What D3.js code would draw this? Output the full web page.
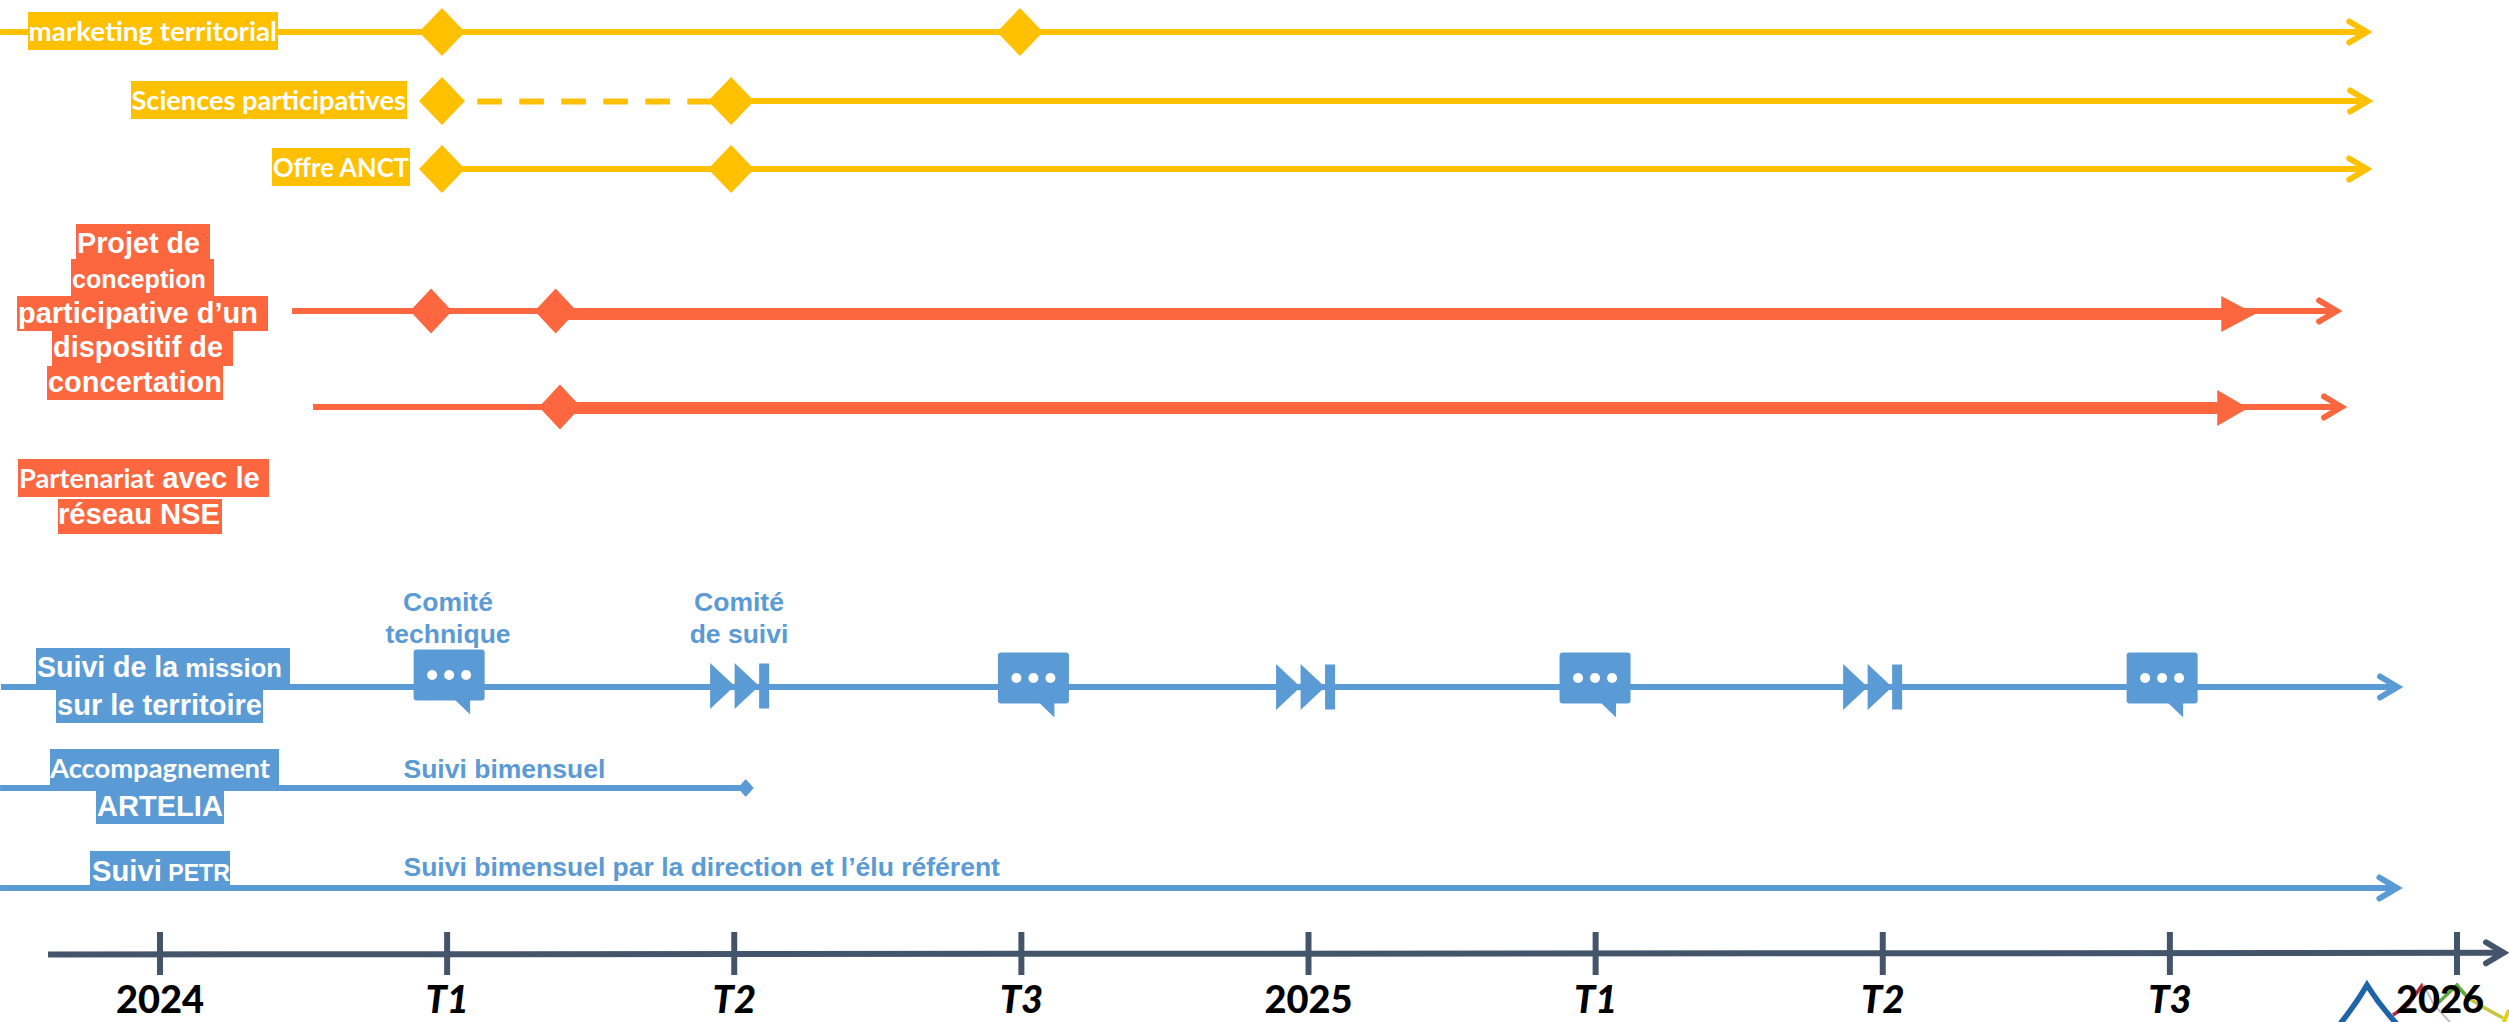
<!DOCTYPE html>
<html lang="fr">
<head>
<meta charset="utf-8">
<script src="https://cdnjs.cloudflare.com/ajax/libs/d3/7.8.5/d3.min.js"></script>
<style>
html,body{margin:0;padding:0;background:#fff;overflow:hidden}
svg{display:block}
</style>
</head>
<body>
<svg id="c" width="2509" height="1022" xmlns="http://www.w3.org/2000/svg"></svg>
<script>
// ---------- data (time expressed in quarters since start of 2024) ----------
const rows = ["marketing","sciences","anct","conception","nse","suivi","artelia","petr"];
const rowGroup = ["yellow","yellow","yellow","orange","orange","blue","blue","blue"];
const lineStart = [-0.557, 1.989, 0.982, 0.460, 0.533, -0.554, -0.557, -0.557];
const lineEnd = [7.705, 7.708, 7.705, 7.600, 7.617, 7.812, 2.040, 7.810];
const arrowEnd = [true, true, true, true, true, true, false, true];
const milestones = [[0.982, 2.995],[0.982, 1.989],[0.982, 1.989],[0.944, 1.378],[1.393],[],[],[]];
const dashedStart = 1.105, dashedEnd = 1.989;
const thickStart = [1.378, 1.393];
const thickEnd = [7.179, 7.165];
const thickTip = [7.297, 7.273];
const bubbles = [1.007, 3.042, 4.998, 6.973];
const fastForward = [1.916, 3.887, 5.862];
const tickValues = [0,1,2,3,4,5,6,7,8];
const tickLabels = ["2024","T1","T2","T3","2025","T1","T2","T3","2026"];
const axisStart = -0.390, axisEnd = 8.18;

const AR = '"Liberation Sans", Arial, sans-serif';
const CA = 'Lato, Carlito, sans-serif';
const labelLines = [
 {g:"yellow",rect:[28,278,12,50],tx:[28.5,277],b:41,s:[["marketing territorial",CA,27]]},
 {g:"yellow",rect:[131,407,81,119],tx:[131.5,406],b:110,s:[["Sciences participatives",CA,27]]},
 {g:"yellow",rect:[272,410,148,186],tx:[273,409],b:177,s:[["Offre ANCT",CA,27]]},
 {g:"orange",rect:[76,210,224,259],tx:[77,200],b:253,s:[["Projet de",AR,28.7]]},
 {g:"orange",rect:[71,214,259,296],tx:[72,206],b:288,s:[["conception",AR,25]]},
 {g:"orange",rect:[17,268,296,331],tx:[18,258],b:323,s:[["participative d’un",AR,29]]},
 {g:"orange",rect:[52,233,331,366],tx:[53,223],b:357,s:[["dispositif de",AR,29]]},
 {g:"orange",rect:[47,223,366,400],tx:[48,222],b:392,s:[["concertation",AR,29]]},
 {g:"orange",rect:[18,269,459,497],tx:[19,260],b:488,s:[["Partenariat",CA,27],[" avec le",AR,29]]},
 {g:"orange",rect:[58,222,499,534],tx:[58,220],b:524,s:[["réseau NSE",AR,29]]},
 {g:"blue",rect:[36,290,648,689],tx:[37,282],b:677,s:[["Suivi de la",AR,29],[" mission",AR,26]]},
 {g:"blue",rect:[56,263,689,723],tx:[57,262],b:715,s:[["sur le territoire",AR,29]]},
 {g:"blue",rect:[50,279,749,790],tx:[50,270],b:778,s:[["Accompagnement",CA,27]]},
 {g:"blue",rect:[96,224,791,824],tx:[97,223],b:816,s:[["ARTELIA",AR,29]]},
 {g:"blue",rect:[90,230,851,885],tx:[92,230],b:881,s:[["Suivi",AR,29],[" PETR",AR,23]]}
];
const notes = [
 {x:448,b:611,a:"middle",t:"Comité"},
 {x:448,b:643,a:"middle",t:"technique"},
 {x:739,b:611,a:"middle",t:"Comité"},
 {x:739,b:643,a:"middle",t:"de suivi"},
 {x:403.5,b:778,a:"start",t:"Suivi bimensuel"},
 {x:403.5,b:876,a:"start",t:"Suivi bimensuel par la direction et l’élu référent"}
];

// ---------- scales ----------
const colors = {yellow:"#FFC000",orange:"#FC673F",blue:"#5B9BD5"};
const navy = "#44546A";
const x = d3.scaleLinear().domain([0,8]).range([160,2457]);
const y = d3.scaleOrdinal().domain(rows).range([32,101,169,311,407,687,788,888]);
const color = d3.scaleOrdinal().domain(rows).range(rowGroup.map(g=>colors[g]));

const svg = d3.select("#c");
const lineLayer = svg.append("g");
const markLayer = svg.append("g");

// open arrowhead whose tip sits at (px,py)
function arrowHead(sel,px,py,c){
  sel.append("path")
    .attr("d",`M${px-23},${py-10.5}L${px-5.5},${py}L${px-23},${py+10.5}`)
    .attr("fill","none").attr("stroke",c).attr("stroke-width",6)
    .attr("stroke-linecap","round").attr("stroke-linejoin","miter");
}

// ---------- main lines ----------
rows.forEach((r,i)=>{
  const yy = y(r), c = color(r);
  lineLayer.append("line")
    .attr("x1",x(lineStart[i])).attr("x2",x(lineEnd[i])-5.5)
    .attr("y1",yy).attr("y2",yy)
    .attr("stroke",c).attr("stroke-width",6);
  if(arrowEnd[i]) arrowHead(lineLayer,x(lineEnd[i]),yy,c);
});

// dashed segment
lineLayer.append("line")
  .attr("x1",x(dashedStart)).attr("x2",x(dashedEnd))
  .attr("y1",y("sciences")+.5).attr("y2",y("sciences")+.5)
  .attr("stroke",colors.yellow).attr("stroke-width",6)
  .attr("stroke-dasharray","24.6 17.4");

// thick orange bars + triangles
["conception","nse"].forEach((r,i)=>{
  const yy = y(r)+ (i==0?3:1);
  markLayer.append("line")
    .attr("x1",x(thickStart[i])).attr("x2",x(thickEnd[i])+2)
    .attr("y1",yy).attr("y2",yy)
    .attr("stroke",colors.orange).attr("stroke-width",12);
  markLayer.append("path")
    .attr("d",`M${x(thickEnd[i])},${yy-18}L${x(thickTip[i])},${yy}L${x(thickEnd[i])},${yy+18}Z`)
    .attr("fill",colors.orange);
});

// ---------- diamonds ----------
rows.forEach((r,i)=>{
  const hw = rowGroup[i]==="yellow"?23:21, hh = rowGroup[i]==="yellow"?24:22.5;
  milestones[i].forEach(q=>{
    const cx=x(q), cy=y(r);
    markLayer.append("path")
      .attr("d",`M${cx-hw},${cy}L${cx},${cy-hh}L${cx+hw},${cy}L${cx},${cy+hh}Z`)
      .attr("fill",color(r));
  });
});
// end diamond of ARTELIA line
(function(){
  const cx=x(lineEnd[6]), cy=y("artelia");
  markLayer.append("path")
    .attr("d",`M${cx-8},${cy}L${cx},${cy-9}L${cx+8},${cy}L${cx},${cy+9}Z`)
    .attr("fill",colors.blue);
})();

// ---------- speech bubbles ----------
bubbles.forEach((q,i)=>{
  const cx=x(q), cy=y("suivi")+(i==0?-12:-9);
  const g=markLayer.append("g").attr("transform",`translate(${cx},${cy})`);
  g.append("rect").attr("x",-35.5).attr("y",-25.5).attr("width",71).attr("height",51).attr("rx",3)
    .attr("fill",colors.blue);
  g.append("path").attr("d","M6,25L21,25L21,39.5Z").attr("fill",colors.blue);
  [-17,0,17].forEach(d=>g.append("circle").attr("cx",d).attr("cy",0).attr("r",5).attr("fill","#fff"));
});

// ---------- fast-forward marks ----------
fastForward.forEach((q,i)=>{
  const sx=x(q), cy=y("suivi")+(i==0?-1:0);
  const g=markLayer.append("g").attr("transform",`translate(${sx},${cy})`);
  g.append("path").attr("d","M0,-23L24.5,0L0,23Z").attr("fill",colors.blue);
  g.append("path").attr("d","M24.5,-23L49,0L24.5,23Z").attr("fill",colors.blue);
  g.append("rect").attr("x",49).attr("y",-22.5).attr("width",10).attr("height",45).attr("fill",colors.blue);
});

// ---------- label boxes ----------
const labelLayer = svg.append("g");
labelLines.forEach(l=>{
  labelLayer.append("rect")
    .attr("x",l.rect[0]).attr("y",l.rect[2])
    .attr("width",l.rect[1]-l.rect[0]).attr("height",l.rect[3]-l.rect[2])
    .attr("fill",colors[l.g]);
});
labelLines.forEach(l=>{
  const t = labelLayer.append("text")
    .attr("x",0).attr("y",0)
    .attr("fill","#fff").attr("font-weight",700)
    .style("white-space","pre").attr("xml:space","preserve");
  l.s.forEach(s=>{
    t.append("tspan").text(s[0]).attr("font-family",s[1]).attr("font-size",s[2]);
  });
  // squeeze or widen the glyphs so the line fills the same width as in the picture
  const len = t.node().getComputedTextLength();
  t.attr("transform",`translate(${l.tx[0]},${l.b}) scale(${(l.tx[1]-l.tx[0])/len},1)`);
});

// ---------- blue annotations ----------
svg.append("g").selectAll("text").data(notes).join("text")
  .attr("x",d=>d.x).attr("y",d=>d.b).attr("text-anchor",d=>d.a)
  .attr("font-family",AR).attr("font-weight",700).attr("font-size",26.5)
  .attr("fill",colors.blue).text(d=>d.t);

// ---------- logo fragment at the bottom-right ----------
const logo = svg.append("g").attr("fill","none");
logo.append("path").attr("d","M2340,1024Q2356,1004 2367,985Q2380,1006 2397,1024")
  .attr("stroke","#1F63A8").attr("stroke-width",5.5);
logo.append("path").attr("d","M2393,1015L2408,1005L2423,984").attr("stroke","#B5283C").attr("stroke-width",3.5);
logo.append("path").attr("d","M2423,984L2434,1005L2450,1022").attr("stroke","#C9B8BC").attr("stroke-width",2);
logo.append("path").attr("d","M2438,1003L2457,985L2468,998").attr("stroke","#62A83C").attr("stroke-width",3.5);
logo.append("path").attr("d","M2468,998L2483,1007L2503,1018").attr("stroke","#C6C540").attr("stroke-width",3.5);
logo.append("path").attr("d","M2503,1024L2509,1010").attr("stroke","#E6D000").attr("stroke-width",4);

// ---------- time axis ----------
const axisY = 954;
const axisG = svg.append("g").attr("transform",`translate(0,${axisY})`);
axisG.append("line")
  .attr("x1",x(axisStart)).attr("x2",2509-5.5)
  .attr("y1",.5).attr("y2",-1.2)
  .attr("stroke",navy).attr("stroke-width",6);
arrowHead(axisG,2509,-1.2,navy);

const axis = d3.axisBottom(x).tickValues(tickValues)
  .tickFormat((d,i)=>tickLabels[i]).tickSize(21).tickPadding(0).offset(0);
const ag = axisG.append("g").call(axis);
ag.select(".domain").remove();
ag.selectAll(".tick line").attr("y1",-22).attr("y2",21)
  .attr("stroke",navy).attr("stroke-width",6);
ag.selectAll(".tick text")
  .attr("y",59).attr("dy",0)
  .attr("x",(d,i)=>tickLabels[i]==="2026"?-17:0)
  .attr("font-family",CA).attr("font-weight",900).attr("font-size",38)
  .attr("font-style",(d,i)=>tickLabels[i].startsWith("T")?"italic":"normal")
  .attr("fill","#000");
</script>
</body>
</html>
